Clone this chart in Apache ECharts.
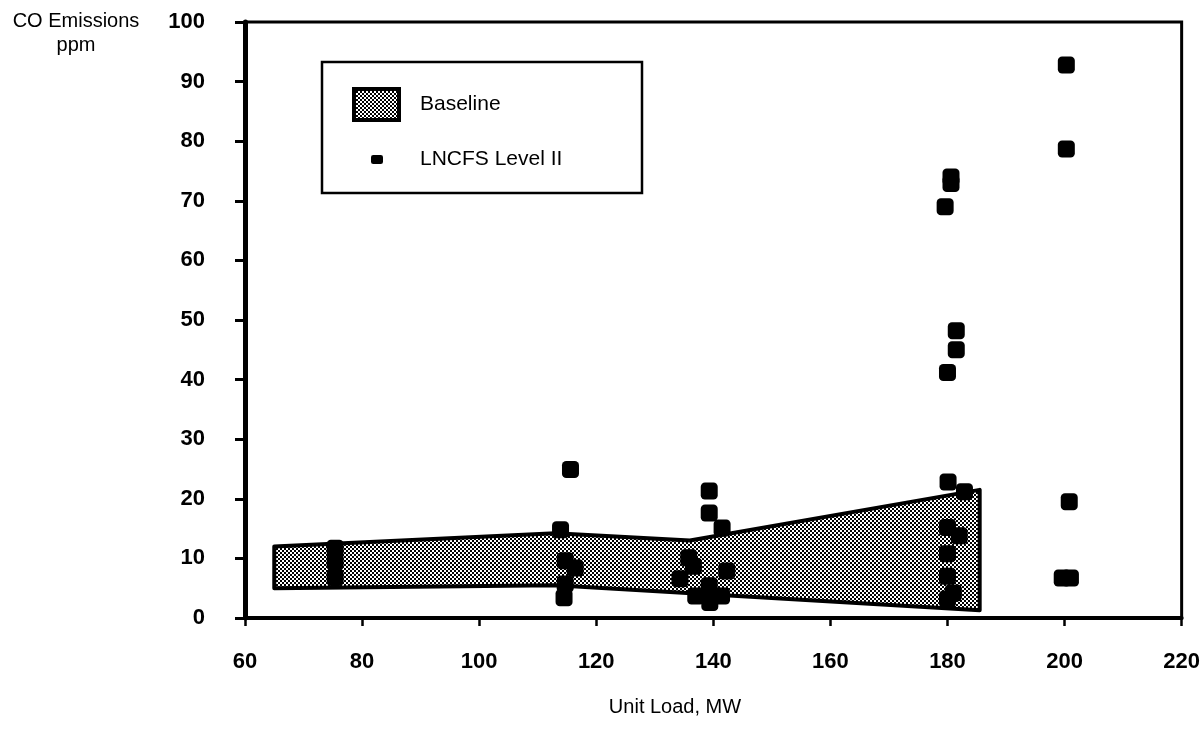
<!DOCTYPE html>
<html>
<head>
<meta charset="utf-8">
<script src="https://cdn.jsdelivr.net/npm/echarts@6/dist/echarts.min.js"></script>
<style>
html,body{margin:0;padding:0;background:#fff;}
#chart{width:1203px;height:740px;}
</style>
</head>
<body>
<div id="chart"></div>
<script>
// ---- data ----
const xTickValues = [60, 80, 100, 120, 140, 160, 180, 200, 220];
const yTickValues = [0, 10, 20, 30, 40, 50, 60, 70, 80, 90, 100];

// Baseline band outline (Unit Load MW, CO ppm)
const baselineUpper = [[65, 12], [113, 14.2], [136, 13], [185.5, 21.5]];
const baselineLower = [[65, 5], [113, 5.5], [185.5, 1.3]];

// LNCFS Level II points
const lncfsLoad = [
  75.4, 75.4, 75.4,
  115.6, 113.9, 114.7, 116.4, 114.7, 114.5,
  139.3, 139.3, 141.5, 135.8, 136.6, 134.3, 142.3, 139.3, 137.0, 139.4, 141.4,
  180.6, 180.6, 179.6, 181.5, 181.5, 180.0, 180.1, 182.9, 180.0, 182.0, 180.0, 180.0, 181.0, 180.0,
  200.3, 200.3, 200.8, 199.6, 201.0
];
const lncfsCO = [
  11.7, 9.4, 6.8,
  24.9, 14.8, 9.6, 8.4, 5.7, 3.4,
  21.3, 17.6, 15.1, 10.1, 8.7, 6.6, 7.9, 5.4, 3.7, 2.6, 3.7,
  74.0, 72.9, 69.0, 48.2, 45.0, 41.2, 22.8, 21.2, 15.2, 13.8, 10.8, 7.0, 4.2, 3.2,
  92.8, 78.7, 19.5, 6.7, 6.7
];

// ---- styling helpers ----
function makePattern() {
  const c = document.createElement('canvas');
  c.width = 4; c.height = 4;
  const ctx = c.getContext('2d');
  ctx.fillStyle = '#ffffff';
  ctx.fillRect(0, 0, 4, 4);
  ctx.fillStyle = '#000000';
  ctx.fillRect(0, 0, 2, 2);
  ctx.fillRect(2, 2, 2, 2);
  return { image: c, repeat: 'repeat' };
}
const stipple = makePattern();
const numFont = "'Liberation Sans Narrow','Liberation Sans',Arial,sans-serif";
const txtFont = "'Liberation Sans',Arial,sans-serif";

const lncfsData = lncfsLoad.map((x, i) => [x, lncfsCO[i]]);

const chart = echarts.init(document.getElementById('chart'), null, { renderer: 'canvas' });
chart.setOption({
  animation: false,
  backgroundColor: '#ffffff',
  grid: {
    left: 245, right: 17, top: 22, bottom: 122,
    show: true, borderColor: '#000', borderWidth: 3, backgroundColor: 'transparent'
  },
  xAxis: {
    type: 'value', min: 60, max: 220,
    splitLine: { show: false },
    axisLine: { show: true, lineStyle: { color: '#000', width: 4 } },
    axisTick: { show: true, inside: false, length: 8, customValues: xTickValues, lineStyle: { color: '#000', width: 2.5 } },
    axisLabel: { customValues: xTickValues, margin: 33, fontSize: 22, fontWeight: 'bold', color: '#000', fontFamily: numFont }
  },
  yAxis: {
    type: 'value', min: 0, max: 100,
    splitLine: { show: false },
    axisLine: { show: true, lineStyle: { color: '#000', width: 5 } },
    axisTick: { show: true, inside: false, length: 10, customValues: yTickValues, lineStyle: { color: '#000', width: 3 } },
    axisLabel: { customValues: yTickValues, margin: 40, fontSize: 22, fontWeight: 'bold', color: '#000', fontFamily: numFont }
  },
  legend: [
    {
      data: [{ name: 'Baseline', icon: 'rect', itemStyle: { color: stipple, borderColor: '#000', borderWidth: 4 } }],
      left: 352, top: 87, padding: 0, itemWidth: 45, itemHeight: 31, selectedMode: false, z: 10,
      textStyle: { fontSize: 21, color: '#000', fontFamily: txtFont, padding: [0, 0, 0, 16] }
    },
    {
      data: [{ name: 'LNCFS Level II', icon: 'roundRect', itemStyle: { color: '#000' } }],
      left: 371, top: 149, padding: 0, itemWidth: 12, itemHeight: 9, selectedMode: false, z: 10,
      textStyle: { fontSize: 21, color: '#000', fontFamily: txtFont, padding: [0, 0, 0, 32] }
    }
  ],
  graphic: [
    { type: 'rect', z: 5, shape: { x: 322, y: 62, width: 320, height: 131 }, style: { fill: '#fff', stroke: '#000', lineWidth: 2.5 } },
    { type: 'text', x: 76, y: 21, style: { text: 'CO Emissions', fontSize: 20, fontFamily: txtFont, fill: '#000', align: 'center', verticalAlign: 'middle' } },
    { type: 'text', x: 76, y: 45, style: { text: 'ppm', fontSize: 20, fontFamily: txtFont, fill: '#000', align: 'center', verticalAlign: 'middle' } },
    { type: 'text', x: 675, y: 707, style: { text: 'Unit Load, MW', fontSize: 20, fontFamily: txtFont, fill: '#000', align: 'center', verticalAlign: 'middle' } }
  ],
  series: [
    {
      name: 'Baseline',
      type: 'custom',
      coordinateSystem: 'cartesian2d',
      data: [[baselineUpper[0][0], baselineUpper[0][1]]],
      itemStyle: { color: stipple, borderColor: '#000', borderWidth: 4 },
      z: 2,
      renderItem: function (params, api) {
        const pts = baselineUpper.map(p => api.coord(p))
          .concat(baselineLower.slice().reverse().map(p => api.coord(p)));
        return {
          type: 'polygon',
          shape: { points: pts },
          style: { fill: stipple, stroke: '#000', lineWidth: 4, lineJoin: 'round' }
        };
      }
    },
    {
      name: 'LNCFS Level II',
      type: 'scatter',
      symbol: 'roundRect',
      symbolSize: 17,
      itemStyle: { color: '#000', opacity: 1 },
      z: 3,
      data: lncfsData
    }
  ]
});
</script>
</body>
</html>
